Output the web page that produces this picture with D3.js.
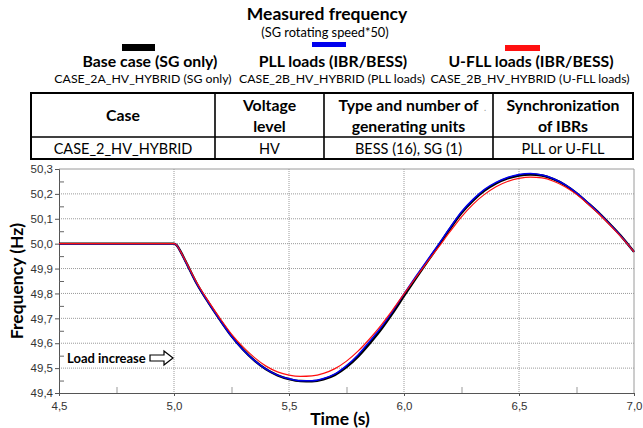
<!DOCTYPE html>
<html><head><meta charset="utf-8">
<script src="https://cdn.jsdelivr.net/npm/d3@7"></script>
<style>
html,body{margin:0;padding:0;background:#fff;}
svg{display:block;}
</style></head>
<body>
<svg id="chart" width="643" height="428"></svg>
<script>
// ---------------- DATA ----------------
const time = [4.5, 4.9, 5.0, 5.01, 5.03, 5.05, 5.1, 5.15, 5.2, 5.25, 5.3, 5.35, 5.4, 5.45, 5.5, 5.55, 5.6, 5.65, 5.7, 5.75, 5.8, 5.85, 5.9, 5.95, 6.0, 6.05, 6.1, 6.15, 6.2, 6.25, 6.3, 6.35, 6.4, 6.45, 6.5, 6.55, 6.6, 6.65, 6.7, 6.75, 6.8, 6.85, 6.9, 6.95, 7.0];
const baseCase = [50.0, 50.0, 50.0, 49.995, 49.966, 49.930, 49.838, 49.763, 49.694, 49.629, 49.575, 49.530, 49.495, 49.471, 49.456, 49.448, 49.447, 49.455, 49.473, 49.504, 49.546, 49.598, 49.655, 49.720, 49.790, 49.859, 49.926, 49.992, 50.060, 50.123, 50.173, 50.213, 50.242, 50.262, 50.274, 50.278, 50.274, 50.259, 50.236, 50.203, 50.163, 50.121, 50.074, 50.024, 49.967];
const pllLoads = [50.0, 50.0, 50.0, 49.995, 49.965, 49.929, 49.837, 49.762, 49.693, 49.628, 49.574, 49.530, 49.496, 49.472, 49.457, 49.449, 49.449, 49.458, 49.477, 49.510, 49.553, 49.607, 49.663, 49.728, 49.798, 49.866, 49.932, 49.997, 50.064, 50.128, 50.178, 50.218, 50.246, 50.266, 50.278, 50.282, 50.276, 50.261, 50.237, 50.204, 50.164, 50.121, 50.073, 50.023, 49.967];
const ufllLoads = [50.0, 50.0, 50.0, 49.995, 49.966, 49.931, 49.842, 49.768, 49.700, 49.637, 49.585, 49.542, 49.508, 49.485, 49.472, 49.467, 49.469, 49.479, 49.498, 49.528, 49.568, 49.617, 49.672, 49.733, 49.798, 49.862, 49.925, 49.986, 50.048, 50.108, 50.158, 50.198, 50.229, 50.250, 50.262, 50.267, 50.264, 50.251, 50.229, 50.198, 50.159, 50.117, 50.070, 50.021, 49.967];

const seriesNames = ["Base case (SG only)", "PLL loads (IBR/BESS)", "U-FLL loads (IBR/BESS)"];
const seriesSub = ["CASE_2A_HV_HYBRID (SG only)", "CASE_2B_HV_HYBRID (PLL loads)", "CASE_2B_HV_HYBRID (U-FLL loads)"];
const seriesColors = ["#000000", "#0000ee", "#ff1010"];

const xTicks = [4.5, 5.0, 5.5, 6.0, 6.5, 7.0];
const xMinorTicks = [4.75, 5.25, 5.75, 6.25, 6.75];
const yTicks = [49.4, 49.5, 49.6, 49.7, 49.8, 49.9, 50.0, 50.1, 50.2, 50.3];
const yMinorTicks = [49.45, 49.55, 49.65, 49.75, 49.85, 49.95, 50.05, 50.15, 50.25];

const tableHeader = [["Case"], ["Voltage", "level"], ["Type and number of", "generating units"], ["Synchronization", "of IBRs"]];
const tableRow = ["CASE_2_HV_HYBRID", "HV", "BESS (16), SG (1)", "PLL or U-FLL"];

const titleText = "Measured frequency";
const subtitleText = "(SG rotating speed*50)";
const xTitle = "Time (s)";
const yTitle = "Frequency (Hz)";
const annotationText = "Load increase";

// ---------------- LAYOUT ----------------
const svg = d3.select("#chart");
const FONT = "Lato, 'Open Sans', sans-serif";
const AXFONT = "'Liberation Sans', Arial, sans-serif";
const plot = {left: 59, right: 634, top: 169, bottom: 393};

const x = d3.scaleLinear().domain([4.5, 7.0]).range([plot.left, plot.right]);
const y = d3.scaleLinear().domain([49.4, 50.3]).range([plot.bottom, plot.top]);
const fmt = v => d3.format(".1f")(v).replace(".", ",");

// Title
svg.append("text").attr("x", 327).attr("y", 20).attr("text-anchor", "middle")
  .attr("font-family", FONT).attr("font-weight", "bold").attr("font-size", 17.5).text(titleText);
svg.append("text").attr("x", 325).attr("y", 37).attr("text-anchor", "middle")
  .attr("font-family", FONT).attr("font-size", 12.8).text(subtitleText);

// Legend
const legX = [143, 332, 530];
const barX = [[122, 155], [312, 346], [505, 540]];
const barY = [[44, 51], [42, 47], [45, 51]];
seriesNames.forEach((n, i) => {
  svg.append("rect").attr("x", barX[i][0]).attr("y", barY[i][0])
    .attr("width", barX[i][1] - barX[i][0]).attr("height", barY[i][1] - barY[i][0])
    .attr("fill", seriesColors[i]);
  svg.append("text").attr("x", legX[i] + (i === 0 ? 7 : 1)).attr("y", 67).attr("text-anchor", "middle")
    .attr("font-family", FONT).attr("font-weight", "bold").attr("font-size", 15.8).text(n);
  svg.append("text").attr("x", legX[i]).attr("y", 83).attr("text-anchor", "middle")
    .attr("font-family", FONT).attr("font-size", 12.3).text(seriesSub[i]);
});

// Table
const colX = [31, 215, 324, 493, 633];
const rowY = [93, 137, 159];
const tg = svg.append("g");
tg.append("rect").attr("x", colX[0]).attr("y", rowY[0]).attr("width", colX[4] - colX[0])
  .attr("height", rowY[2] - rowY[0]).attr("fill", "none").attr("stroke", "#000").attr("stroke-width", 2);
tg.append("line").attr("x1", colX[0]).attr("x2", colX[4]).attr("y1", rowY[1]).attr("y2", rowY[1])
  .attr("stroke", "#000").attr("stroke-width", 1.6);
colX.slice(1, 4).forEach(cx => tg.append("line").attr("x1", cx).attr("x2", cx)
  .attr("y1", rowY[0]).attr("y2", rowY[2]).attr("stroke", "#000").attr("stroke-width", 1.6));
tableHeader.forEach((lines, i) => {
  const cx = (colX[i] + colX[i + 1]) / 2;
  const cy = (rowY[0] + rowY[1]) / 2;
  lines.forEach((t, j) => {
    const yy = lines.length === 1 ? cy + 5.5 : cy - 4.5 + j * 21;
    tg.append("text").attr("x", cx).attr("y", yy).attr("text-anchor", "middle")
      .attr("font-family", FONT).attr("font-weight", "bold").attr("font-size", 15.8).text(t);
  });
});
tg.append("text").attr("x", 484).attr("y", 111).attr("font-family", FONT).attr("font-size", 9)
  .attr("fill", "#999").text(".");
tableRow.forEach((t, i) => {
  const cx = (colX[i] + colX[i + 1]) / 2;
  tg.append("text").attr("x", cx).attr("y", 153.5).attr("text-anchor", "middle")
    .attr("font-family", FONT).attr("font-size", 14.5).text(t);
});

// Grid
const gg = svg.append("g");
gg.selectAll(".hg").data(yTicks.filter(v => v > 49.45 && v < 50.25)).join("line")
  .attr("x1", plot.left).attr("x2", plot.right).attr("y1", d => y(d)).attr("y2", d => y(d))
  .attr("stroke", "#9a9a9a").attr("stroke-width", 1).attr("stroke-dasharray", "1,1");
gg.selectAll(".vg").data(xTicks.filter(v => v > 4.6 && v < 6.9)).join("line")
  .attr("x1", d => x(d)).attr("x2", d => x(d)).attr("y1", plot.top).attr("y2", plot.bottom)
  .attr("stroke", "#9a9a9a").attr("stroke-width", 1).attr("stroke-dasharray", "1,1");
gg.append("line").attr("x1", plot.left).attr("x2", plot.right).attr("y1", plot.top).attr("y2", plot.top)
  .attr("stroke", "#9a9a9a");
gg.append("line").attr("x1", plot.right).attr("x2", plot.right).attr("y1", plot.top).attr("y2", plot.bottom)
  .attr("stroke", "#9a9a9a");

// Axes
const yAxis = svg.append("g").attr("transform", `translate(${plot.left},0)`)
  .call(d3.axisLeft(y).tickValues(yTicks).tickFormat(fmt).tickSize(4).tickPadding(2));
const xAxis = svg.append("g").attr("transform", `translate(0,${plot.bottom})`)
  .call(d3.axisBottom(x).tickValues(xTicks).tickFormat(fmt).tickSize(3).tickPadding(6));
[yAxis, xAxis].forEach(a => {
  a.select(".domain").attr("stroke", "#555");
  a.selectAll(".tick line").attr("stroke", "#555");
  a.selectAll("text").attr("font-family", AXFONT).attr("font-size", 11.5).attr("fill", "#333");
});
svg.append("g").attr("transform", `translate(${plot.left},0)`)
  .call(d3.axisRight(y).tickValues(yMinorTicks).tickSize(5).tickFormat(""))
  .call(g => { g.select(".domain").remove(); g.selectAll("line").attr("stroke", "#666"); });
svg.append("g").attr("transform", `translate(0,${plot.bottom})`)
  .call(d3.axisTop(x).tickValues(xMinorTicks).tickSize(6).tickFormat(""))
  .call(g => { g.select(".domain").remove(); g.selectAll("line").attr("stroke", "#999"); });

// Axis titles
svg.append("text").attr("transform", `translate(23,281) rotate(-90)`).attr("text-anchor", "middle")
  .attr("font-family", FONT).attr("font-weight", "bold").attr("font-size", 17.5).text(yTitle);
svg.append("text").attr("x", 340).attr("y", 425).attr("text-anchor", "middle")
  .attr("font-family", FONT).attr("font-weight", "bold").attr("font-size", 17.5).text(xTitle);

// Lines
const line = d3.line().x(d => x(d[0])).y(d => y(d[1])).curve(d3.curveMonotoneX);
const allSeries = [baseCase, pllLoads, ufllLoads];
const widths = [2.4, 1.5, 1.2];
allSeries.forEach((s, i) => {
  svg.append("path").datum(time.map((t, k) => [t, s[k]]))
    .attr("d", line).attr("fill", "none").attr("stroke", seriesColors[i])
    .attr("stroke-width", widths[i]).attr("stroke-linejoin", "round");
});

// Annotation
svg.append("text").attr("x", 67).attr("y", 362.5).attr("font-family", FONT).attr("font-weight", "bold")
  .attr("font-size", 13).text(annotationText);
const ax0 = 150, ay = 358;
const arrowPts = [[ax0, ay - 3], [ax0 + 14, ay - 3], [ax0 + 14, ay - 7], [ax0 + 23, ay], [ax0 + 14, ay + 7], [ax0 + 14, ay + 3], [ax0, ay + 3]];
svg.append("polygon").attr("points", arrowPts.map(p => p.join(",")).join(" "))
  .attr("fill", "#fff").attr("stroke", "#000").attr("stroke-width", 1.2);
</script>
</body></html>
